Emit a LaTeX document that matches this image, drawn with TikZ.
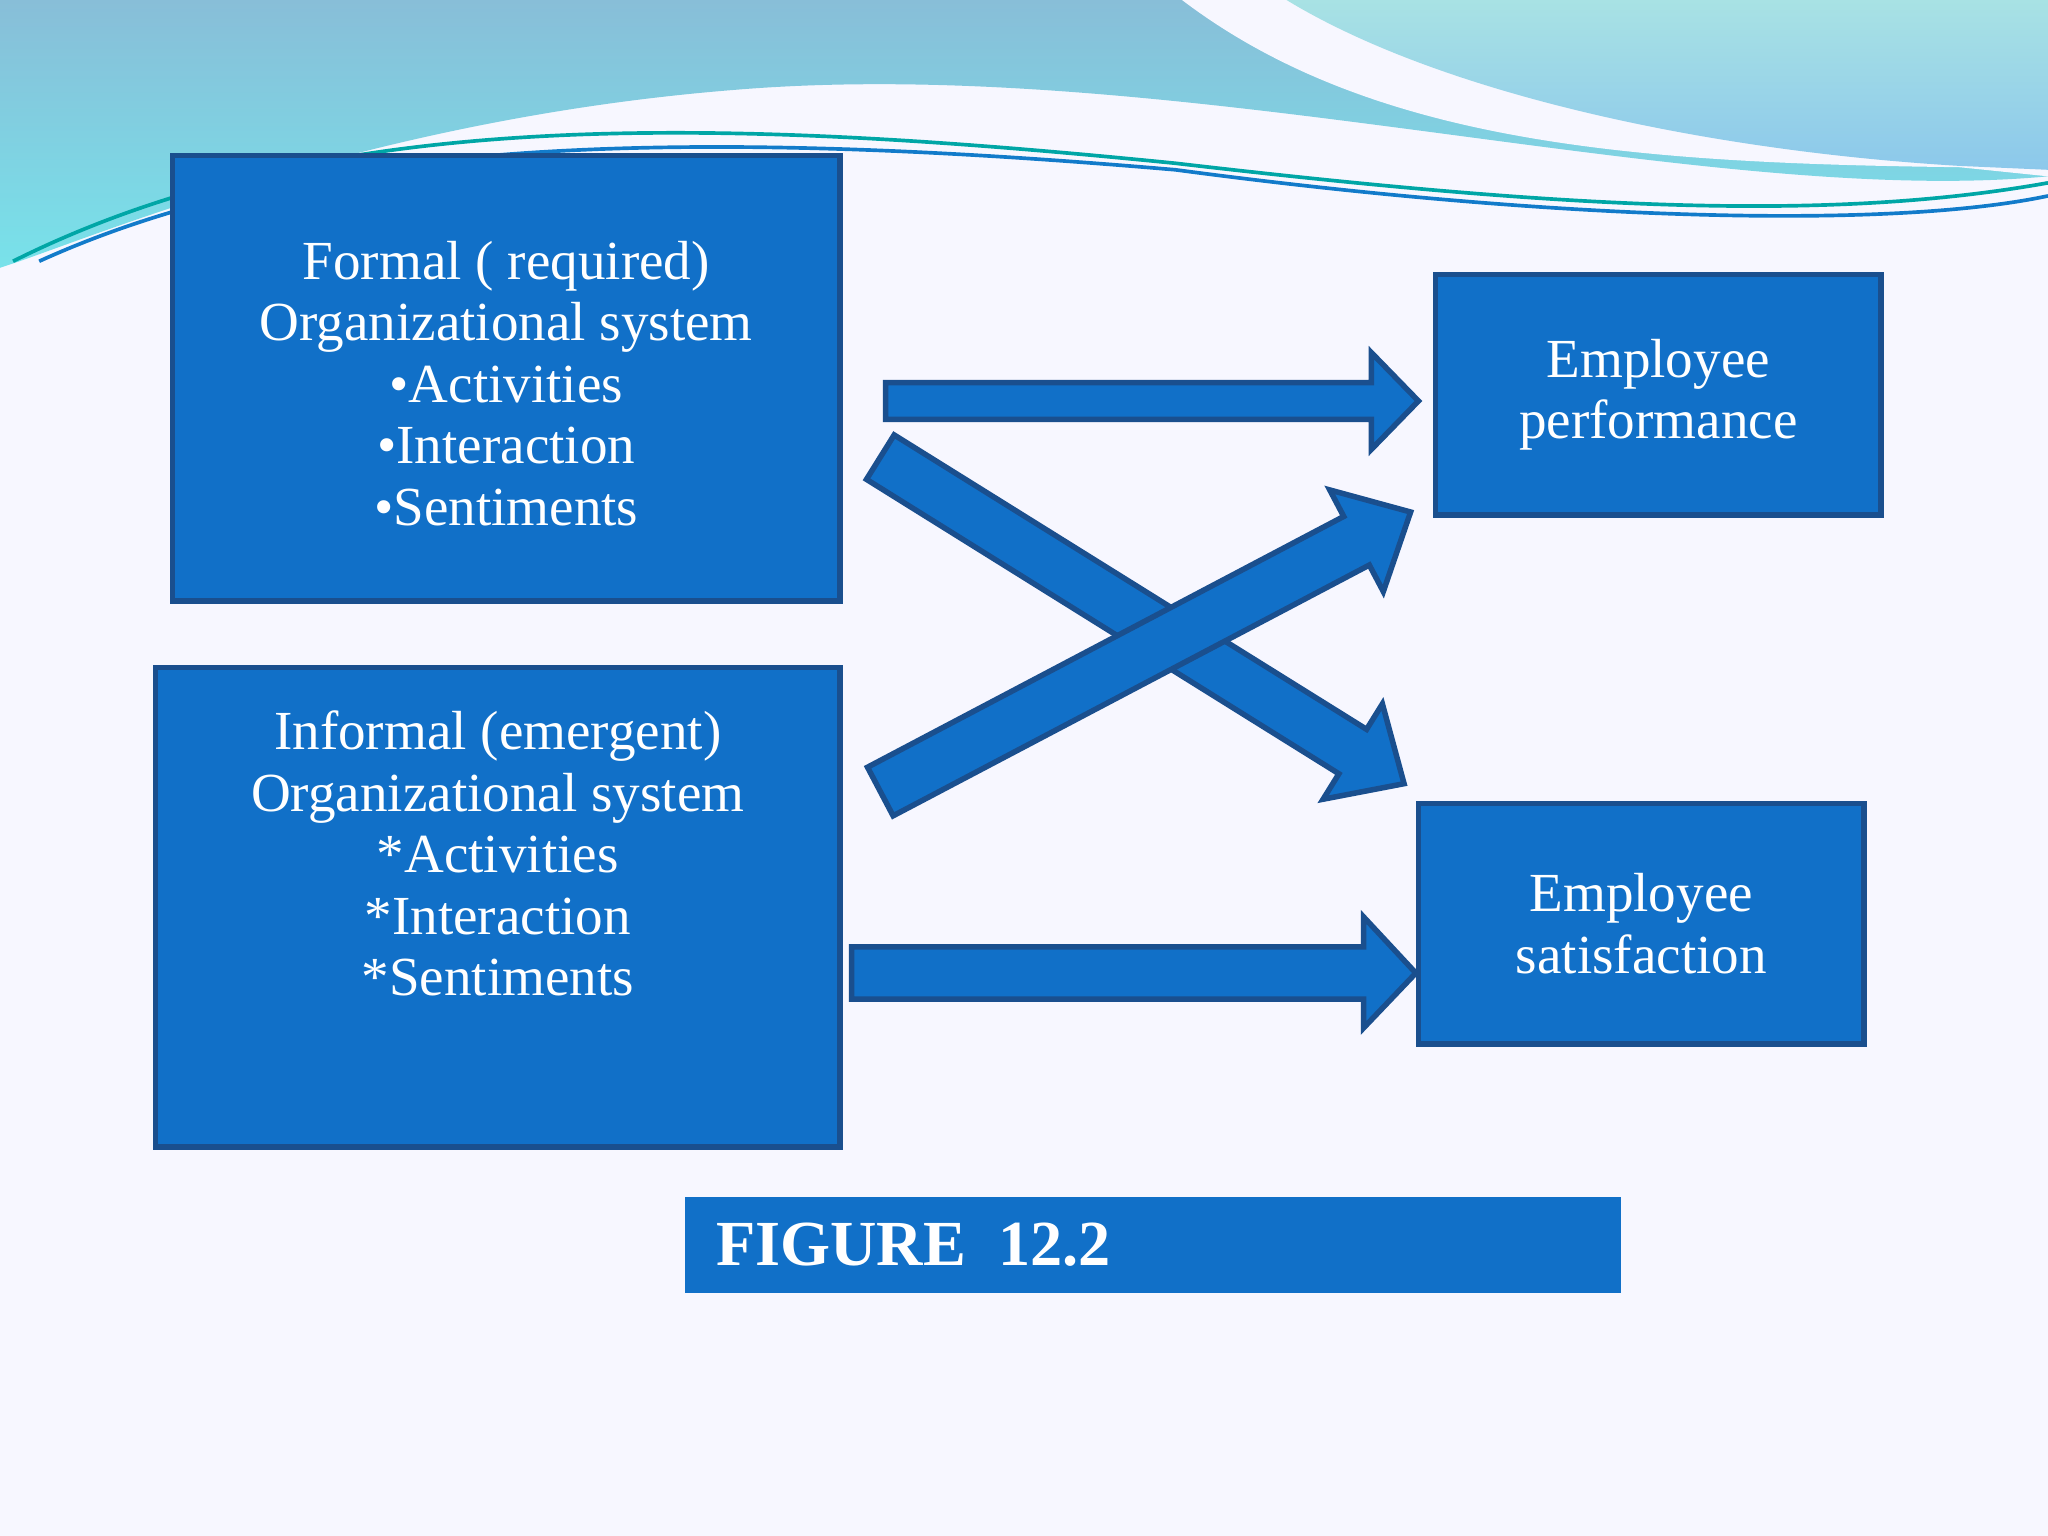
\documentclass[tikz,border=0pt]{standalone}
\usepackage{fontspec}
\setmainfont{Liberation Serif}
\begin{document}
\begin{tikzpicture}[x=0.1mm,y=-0.1mm]
\definecolor{bfill}{HTML}{1170C8}
\definecolor{bdraw}{HTML}{1A4F8E}
\tikzset{box/.style={fill=bfill,draw=bdraw,line width=1.2pt,inner sep=0pt},
 arr/.style={fill=bfill,draw=bdraw,line width=1.2pt,line join=miter},
 txt/.style={text=white,align=center,font=\fontsize{12}{13.4}\selectfont}}
\useasboundingbox (0,0) rectangle (1568,1176);
\fill[white!97!blue] (0,0) rectangle (1568,1176);
% waves
\shade[top color={rgb,255:red,136;green,190;blue,216}, bottom color={rgb,255:red,120;green,226;blue,234}]
 (0,0) -- (1568,0) -- (1568,135) .. controls (1300,160) and (900,40) .. (560,69)
 .. controls (300,90) and (100,170) .. (15,200) -- (0,205) -- cycle;
\fill[white!97!blue] (905,0) .. controls (1050,110) and (1250,125) .. (1500,128) -- (1568,135) -- (1568,0) -- cycle;
\shade[top color={rgb,255:red,168;green,226;blue,228}, bottom color={rgb,255:red,140;green,200;blue,235}]
 (985,0) .. controls (1100,70) and (1300,115) .. (1500,127) -- (1568,130) -- (1568,0) -- cycle;
\draw[teal!70!cyan,line width=0.8pt] (10,200) .. controls (250,80) and (550,90) .. (900,125) .. controls (1200,160) and (1400,170) .. (1568,140);
\draw[cyan!60!blue,line width=0.8pt] (30,200) .. controls (250,100) and (550,100) .. (900,130) .. controls (1200,170) and (1450,175) .. (1568,150);
% boxes
\node[box,minimum width=51.1mm,minimum height=34.1mm,anchor=north west] (formal) at (130,117) {};
\node[txt,anchor=north] (formaltext) at ([yshift=-5.5mm]formal.north) {Formal ( required)\\Organizational system\\•Activities\\•Interaction\\•Sentiments};
\node[box,minimum width=52.4mm,minimum height=36.7mm,anchor=north west] (informal) at (117,509) {};
\node[txt,anchor=north] (informaltext) at ([yshift=-2.3mm]informal.north) {Informal (emergent)\\Organizational system\\*Activities\\*Interaction\\*Sentiments};
\node[box,minimum width=34.1mm,minimum height=18.4mm,anchor=north west,txt] (perf) at (1097,208) {Employee\\performance};
\node[box,minimum width=34.1mm,minimum height=18.4mm,anchor=north west,txt] (sat) at (1084,613) {Employee\\satisfaction};
\node[fill=bfill,minimum width=71.6mm,minimum height=7.3mm,inner sep=0pt,anchor=north west] (fig) at (524,916) {};
\node[anchor=west,text=white,font=\bfseries\fontsize{14}{16}\selectfont] (figtext) at ([xshift=1.2mm]fig.west) {FIGURE\ \ 12.2};
% arrows
\draw[arr] (678,293) -- (1050,293) -- (1050,270) -- (1086,307) -- (1050,344) -- (1050,321) -- (678,321) -- cycle;
\draw[arr] (652,725) -- (1044,725) -- (1044,702) -- (1084,745) -- (1044,787) -- (1044,765) -- (652,765) -- cycle;
\draw[arr] (663.4,367.0) -- (1025.1,592.4) -- (1013,611.9) -- (1075,600) -- (1058.4,538.9) -- (1046.3,558.4) -- (684.6,333) -- cycle;
\draw[arr] (664.2,587.4) -- (1028.8,395.4) -- (1018.1,375.1) -- (1080,392) -- (1059.1,452.9) -- (1048.4,432.6) -- (683.8,624.6) -- cycle;
\end{tikzpicture}
\end{document}
